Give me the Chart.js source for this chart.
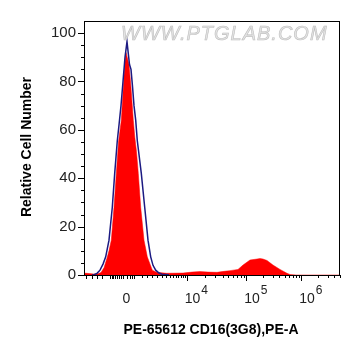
<!DOCTYPE html>
<html>
<head>
<meta charset="utf-8">
<script src="https://cdn.jsdelivr.net/npm/chart.js@4.4.0/dist/chart.umd.min.js"></script>
<style>
  html, body { margin: 0; padding: 0; background: #fff; }
  #wrap { width: 361px; height: 356px; }
</style>
</head>
<body>
<div id="wrap"><canvas id="flowChart"></canvas></div>
<script>
// x values are display channels (0-256) of the biexponential PE-A axis
const sampleX = [0, 5, 10, 14, 17, 20, 23, 25, 27.3, 30, 32.3, 34.5, 37.3, 39.3, 40.7, 42, 45, 47, 49.3, 50.8, 52.5, 54.3, 56.7, 60, 63.3, 68.3, 72.7, 82.7, 99, 108, 116, 124, 133, 140, 146, 154, 159, 166, 173, 176, 179, 183, 189, 196, 203, 206, 212, 256];
const sampleY = [0.8, 0.6, 0.4, 0.5, 1, 3, 7, 10, 14.4, 28, 42, 55, 64, 77.5, 87, 92, 87, 77.5, 64, 57, 51, 42, 28, 14.4, 7.5, 2, 1.1, 0.7, 0.8, 1.2, 1.4, 1.2, 1.1, 1.5, 1.8, 2.3, 4.1, 6.2, 6.6, 6.8, 6.6, 6, 4.1, 2.3, 0.7, 0.2, 0, 0];

const controlX = [8, 10, 13, 16, 19, 21.7, 25, 28.3, 30.7, 33.3, 35, 37, 39, 41, 43, 45.5, 47, 48.5, 50, 51.7, 53.3, 57.3, 60.7, 64, 66.7, 69, 71.7, 75, 78, 85];
const controlY = [0, 0.1, 0.7, 2, 4.5, 7.5, 14.4, 28, 42, 55.5, 62, 70, 80, 90, 96.5, 87, 85, 78, 70, 64, 55.5, 42, 28, 14.4, 7.5, 4, 2, 0.8, 0.3, 0.1];

const yTickValues = [0, 20, 40, 60, 80, 100];
const xLabelPositions = [42.5, 102.7, 162.3, 217.3];
const xLabelBases = ['0', '10', '10', '10'];
const xLabelExps = ['', '4', '5', '6'];
const decadeStarts = [102.7, 162.3, 217.3];
const decadeEnds = [162.3, 217.3, 272.3];
const nearZeroTicks = [2, 8, 13, 18, 26, 27.5, 29, 30.5, 33, 35, 36.5, 39, 42.5, 46, 48, 49.5];
const lowDecadeTicks = [58, 63, 68, 73, 78, 82, 85.5, 88.5, 91.5, 94, 96.5, 98.5, 100.5];

function toPoints(xs, ys) {
  return xs.map((x, i) => ({ x, y: ys[i] }));
}

const flowFrame = {
  id: 'flowFrame',
  afterDraw(chart) {
    const ctx = chart.ctx;
    const area = chart.chartArea;
    const xs = chart.scales.x;
    const ys = chart.scales.y;
    ctx.save();

    // watermark
    ctx.font = 'italic 20px "Liberation Sans", Arial, sans-serif';
    ctx.textBaseline = 'alphabetic';
    ctx.textAlign = 'left';
    ctx.fillStyle = 'rgba(225,225,225,0.9)';
    ctx.strokeStyle = 'rgba(185,185,185,0.9)';
    ctx.lineWidth = 0.6;
    if ('letterSpacing' in ctx) ctx.letterSpacing = '1px';
    ctx.fillText('WWW.PTGLAB.COM', 121, 40);
    ctx.strokeText('WWW.PTGLAB.COM', 121, 40);
    if ('letterSpacing' in ctx) ctx.letterSpacing = '0px';

    // frame
    ctx.strokeStyle = '#000';
    ctx.lineWidth = 1;
    ctx.strokeRect(Math.round(area.left) + 0.5, Math.round(area.top) + 0.5,
      Math.round(area.right - area.left) - 1, Math.round(area.bottom - area.top));

    // y ticks
    ctx.beginPath();
    for (let v = 0; v <= 100; v += 5) {
      const py = Math.round(ys.getPixelForValue(v)) + 0.5;
      const len = v % 20 === 0 ? 6 : 3;
      ctx.moveTo(area.left - len, py);
      ctx.lineTo(area.left, py);
    }
    // x ticks
    const bottom = Math.round(area.bottom);
    const tick = (pos, len) => {
      if (pos < xs.min || pos > xs.max) return;
      const px = Math.round(xs.getPixelForValue(pos)) + 0.5;
      ctx.moveTo(px, bottom);
      ctx.lineTo(px, bottom + len);
    };
    nearZeroTicks.forEach(p => tick(p, 4));
    lowDecadeTicks.forEach(p => tick(p, 3));
    decadeStarts.forEach((start, i) => {
      tick(start, 6);
      for (let k = 2; k <= 9; k++) {
        tick(start + (decadeEnds[i] - start) * Math.log10(k), 3);
      }
    });
    ctx.stroke();

    // x labels with exponents
    ctx.fillStyle = '#222';
    xLabelPositions.forEach((pos, i) => {
      const px = xs.getPixelForValue(pos);
      ctx.font = '14px "Liberation Sans", Arial, sans-serif';
      ctx.textBaseline = 'alphabetic';
      if (!xLabelExps[i]) {
        ctx.textAlign = 'center';
        ctx.fillText(xLabelBases[i], px, 303);
      } else {
        ctx.textAlign = 'left';
        const left = px - 2;
        ctx.fillText(xLabelBases[i], left, 303);
        const w = ctx.measureText(xLabelBases[i]).width;
        ctx.font = '12px "Liberation Sans", Arial, sans-serif';
        ctx.fillText(xLabelExps[i], left + w + 1, 294);
      }
    });

    // axis titles
    ctx.fillStyle = '#000';
    ctx.font = 'bold 14px "Liberation Sans", Arial, sans-serif';
    ctx.textAlign = 'center';
    ctx.textBaseline = 'middle';
    ctx.fillText('PE-65612 CD16(3G8),PE-A', 211, 330);
    ctx.translate(27, 147);
    ctx.rotate(-Math.PI / 2);
    ctx.fillText('Relative Cell Number', 0, 0);
    ctx.restore();
  }
};

new Chart(document.getElementById('flowChart'), {
  type: 'line',
  data: {
    datasets: [
      {
        label: 'Control',
        data: toPoints(controlX, controlY),
        borderColor: '#1c1a82',
        borderWidth: 1.5,
        pointRadius: 0,
        fill: false,
        tension: 0,
      },
      {
        label: 'PE-65612 CD16(3G8)',
        data: toPoints(sampleX, sampleY),
        borderColor: '#ff0000',
        backgroundColor: '#ff0000',
        borderWidth: 0.5,
        pointRadius: 0,
        fill: 'origin',
        tension: 0,
      },
    ],
  },
  options: {
    responsive: true,
    maintainAspectRatio: false,
    animation: false,
    devicePixelRatio: 1,
    layout: {
      padding: { top: 21, right: 21, left: 0, bottom: 0 },
    },
    plugins: {
      legend: { display: false },
      tooltip: { enabled: false },
    },
    scales: {
      x: {
        type: 'linear',
        min: 0,
        max: 256,
        grid: { display: false },
        border: { display: false },
        ticks: { display: false },
        afterFit(scale) { scale.height = 81; },
      },
      y: {
        min: 0,
        max: 105,
        grid: { display: false },
        border: { display: false },
        afterBuildTicks(scale) {
          scale.ticks = yTickValues.map(value => ({ value }));
        },
        ticks: {
          color: '#222',
          padding: 0,
          font: { family: '"Liberation Sans", Arial, sans-serif', size: 15 },
        },
        afterFit(scale) { scale.width = 84; },
      },
    },
  },
  plugins: [flowFrame],
});
</script>
</body>
</html>
